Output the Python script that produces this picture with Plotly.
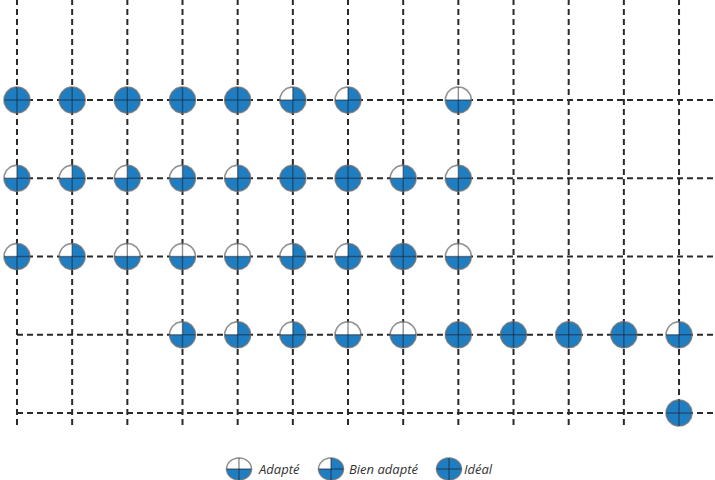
import numpy as np
import plotly.graph_objects as go

# ---- data -----------------------------------------------------------
# level: 0 = none, 1 = Adapté, 2 = Bien adapté, 3 = Idéal
n_cols = 13
row_1 = [3, 3, 3, 3, 3, 2, 2, 0, 1, 0, 0, 0, 0]
row_2 = [2, 2, 2, 2, 2, 3, 3, 2, 2, 0, 0, 0, 0]
row_3 = [2, 2, 1, 1, 1, 2, 2, 3, 1, 0, 0, 0, 0]
row_4 = [0, 0, 0, 2, 2, 2, 1, 1, 3, 3, 3, 3, 2]
row_5 = [0, 0, 0, 0, 0, 0, 0, 0, 0, 0, 0, 0, 3]
rows = [row_1, row_2, row_3, row_4, row_5]
legend_labels = ["Adapté", "Bien adapté", "Idéal"]

# ---- style ----------------------------------------------------------
W, H = 715, 480
ML, MR, MT, MB = 0, 0, 0, 50
BLUE = "#1f7dc1"
GRID = "#2a2a2a"
XR = [-0.308, 12.652]
YR = [-0.217, 5.278]
px_x = (W - ML - MR) / (XR[1] - XR[0])
px_y = (H - MT - MB) / (YR[1] - YR[0])
R = 13.0
rx, ry = R / px_x, R / px_y

fig = go.Figure()

# grid lines
vx, vy = [], []
for c in range(n_cols):
    vx += [c, c, None]
    vy += [-0.153, YR[1] + 0.1, None]
fig.add_trace(go.Scatter(x=vx, y=vy, mode="lines", hoverinfo="skip",
                         line=dict(color=GRID, width=2, dash="6px,4px")))
hx, hy = [], []
for r in range(len(rows)):
    yv = len(rows) - 1 - r
    hx += [0, XR[1] + 0.1, None]
    hy += [yv, yv, None]
fig.add_trace(go.Scatter(x=hx, y=hy, mode="lines", hoverinfo="skip",
                         line=dict(color=GRID, width=2, dash="6px,4px")))


def arc(cx, cy, a0, a1, sx, sy, n=40):
    t = np.radians(np.linspace(a0, a1, n))
    return list(cx + sx * np.cos(t)), list(cy + sy * np.sin(t))


def blue_part(level, cx, cy, sx, sy):
    if level == 1:
        xs, ys = arc(cx, cy, 180, 360, sx, sy)
    elif level == 2:
        xs, ys = arc(cx, cy, 180, 450, sx, sy)
        xs = [cx] + xs + [cx]
        ys = [cy] + ys + [cy]
    else:
        xs, ys = arc(cx, cy, 0, 360, sx, sy, 60)
    return xs, ys


wx, wy, bx, by, ox, oy, cxs, cys = [], [], [], [], [], [], [], []
for r, row in enumerate(rows):
    yv = len(rows) - 1 - r
    for c, lvl in enumerate(row):
        if lvl == 0:
            continue
        xs, ys = arc(c, yv, 0, 360, rx, ry, 60)
        wx += xs + [None]; wy += ys + [None]
        ox += xs + [None]; oy += ys + [None]
        xs, ys = blue_part(lvl, c, yv, rx, ry)
        bx += xs + [None]; by += ys + [None]
        cxs += [c - rx, c + rx, None, c, c, None]
        cys += [yv, yv, None, yv - ry, yv + ry, None]

fig.add_trace(go.Scatter(x=wx, y=wy, mode="lines", fill="toself", fillcolor="white",
                         line=dict(width=0, color="white"), hoverinfo="skip"))
fig.add_trace(go.Scatter(x=bx, y=by, mode="lines", fill="toself", fillcolor=BLUE,
                         line=dict(width=0, color=BLUE), hoverinfo="skip"))
fig.add_trace(go.Scatter(x=ox, y=oy, mode="lines",
                         line=dict(width=1.6, color="rgba(110,110,110,0.75)"), hoverinfo="skip"))
fig.add_trace(go.Scatter(x=cxs, y=cys, mode="lines",
                         line=dict(width=1.4, color="rgba(30,30,40,0.5)"), hoverinfo="skip"))

# ---- legend (custom icons) -------------------------------------------
plot_w, plot_h = W - ML - MR, H - MT - MB
leg_y = (plot_h - 469) / plot_h
leg_icon_x = [239, 331, 449]
leg_text_x = [256, 347, 462]
lrx, lry = 12.5 / plot_w, 11 / plot_h


def path_of(xs, ys):
    pts = [(a, b) for a, b in zip(xs, ys)]
    return "M " + " L ".join(f"{a:.5f},{b:.5f}" for a, b in pts) + " Z"


shapes = []
for i, lab in enumerate(legend_labels):
    cx = leg_icon_x[i] / plot_w
    xs, ys = arc(cx, leg_y, 0, 360, lrx, lry, 60)
    shapes.append(dict(type="path", xref="paper", yref="paper", path=path_of(xs, ys),
                       fillcolor="white", line=dict(width=0)))
    xs, ys = blue_part(i + 1, cx, leg_y, lrx, lry)
    shapes.append(dict(type="path", xref="paper", yref="paper", path=path_of(xs, ys),
                       fillcolor=BLUE, line=dict(width=0)))
    xs, ys = arc(cx, leg_y, 0, 360, lrx, lry, 60)
    shapes.append(dict(type="path", xref="paper", yref="paper", path=path_of(xs, ys),
                       fillcolor="rgba(0,0,0,0)", line=dict(width=1.5, color="rgba(110,110,110,0.75)")))
    shapes.append(dict(type="line", xref="paper", yref="paper", x0=cx - lrx, x1=cx + lrx,
                       y0=leg_y, y1=leg_y, line=dict(width=1.4, color="rgba(30,30,40,0.5)")))
    shapes.append(dict(type="line", xref="paper", yref="paper", x0=cx, x1=cx,
                       y0=leg_y - lry, y1=leg_y + lry, line=dict(width=1.4, color="rgba(30,30,40,0.5)")))

annotations = [dict(x=leg_text_x[i] / plot_w, y=leg_y, xref="paper", yref="paper",
                    text=f"<i>{lab}</i>", showarrow=False, xanchor="left", yanchor="middle",
                    font=dict(family="Open Sans", size=13, color="#333333"))
               for i, lab in enumerate(legend_labels)]

fig.update_layout(
    width=W, height=H,
    margin=dict(l=ML, r=MR, t=MT, b=MB),
    paper_bgcolor="white", plot_bgcolor="white",
    showlegend=False,
    xaxis=dict(range=XR, visible=False, fixedrange=True),
    yaxis=dict(range=YR, visible=False, fixedrange=True),
    shapes=shapes, annotations=annotations,
)

fig.write_html("out.html", config={"displayModeBar": False},
               post_script="document.body.style.margin='0';document.body.style.overflow='hidden';")
